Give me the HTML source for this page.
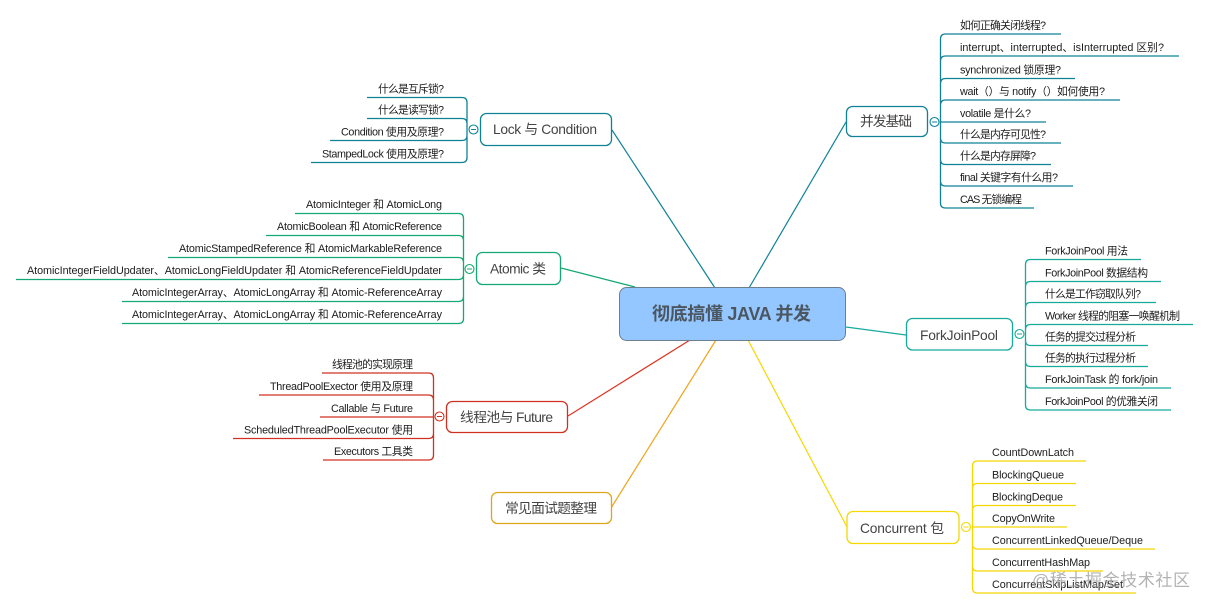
<!DOCTYPE html>
<html lang="zh">
<head>
<meta charset="utf-8">
<title>彻底搞懂 JAVA 并发</title>
<style>
html,body{margin:0;padding:0;background:#fff}
svg{display:block}
text{font-family:"Liberation Sans","Noto Sans CJK SC",sans-serif}
.i{font-size:10.8px;fill:#1c1c1c}
.n{font-size:13.8px;fill:#444}
.l{fill:none;stroke-width:1.3}
.b{fill:#fff;stroke-width:1.3}
.c{fill:#fff;stroke-width:1.1}
</style>
</head>
<body>
<svg width="1209" height="609" viewBox="0 0 1209 609" xmlns="http://www.w3.org/2000/svg">
<rect width="1209" height="609" fill="#fff"/>

<!-- main connectors -->
<g fill="none" stroke-width="1.2">
<path d="M612 130L715 288" stroke="#0f8296"/>
<path d="M749 288L846 122" stroke="#0f8296"/>
<path d="M561 268L635 287" stroke="#14a873"/>
<path d="M846 327L906 335" stroke="#14aa9c"/>
<path d="M568 416L690 340" stroke="#dd3322"/>
<path d="M611 508L716 340" stroke="#eea51c"/>
<path d="M847 527L748 340" stroke="#f4d800"/>
</g>

<!-- center -->
<rect x="619.5" y="287.5" width="226" height="53" rx="7" fill="#94c6ff" stroke="#6d7f8f" stroke-width="1"/>
<text x="652" y="320" font-size="18" font-weight="700" fill="#4b5661" textLength="159">彻底搞懂 JAVA 并发</text>

<!-- 并发基础 -->
<g stroke="#0f8296">
<path class="l" d="M1061 34H945.5Q940.5 34 940.5 39V122M1179 56H945.5Q940.5 56 940.5 61V122M1075 78.5H945.5Q940.5 78.5 940.5 83.5V122M1120 100H945.5Q940.5 100 940.5 105V122M1046 122H940.5M1061 143H945.5Q940.5 143 940.5 138V122M1051 164.5H945.5Q940.5 164.5 940.5 159.5V122M1073 186H945.5Q940.5 186 940.5 181V122M1034 208H945.5Q940.5 208 940.5 203V122"/>
<rect class="b" x="846.5" y="106.5" width="81" height="30" rx="6"/>
<circle class="c" cx="934.5" cy="122" r="4.5"/>
<path d="M932 122H937" fill="none"/>
</g>
<text class="n" x="860" y="126" textLength="52">并发基础</text>
<text class="i" x="960" y="29" textLength="86">如何正确关闭线程?</text>
<text class="i" x="960" y="51" textLength="204">interrupt、interrupted、isInterrupted 区别?</text>
<text class="i" x="960" y="73.5" textLength="101">synchronized 锁原理?</text>
<text class="i" x="960" y="95" textLength="145">wait（）与 notify（）如何使用?</text>
<text class="i" x="960" y="117" textLength="71">volatile 是什么?</text>
<text class="i" x="960" y="138" textLength="86">什么是内存可见性?</text>
<text class="i" x="960" y="159.5" textLength="76">什么是内存屏障?</text>
<text class="i" x="960" y="181" textLength="98">final 关键字有什么用?</text>
<text class="i" x="960" y="203" textLength="62">CAS 无锁编程</text>

<!-- Lock 与 Condition -->
<g stroke="#0f8296">
<path class="l" d="M367 97.5H462Q467 97.5 467 102.5V129.5M367 118.5H462Q467 118.5 467 123.5V129.5M330 140.5H462Q467 140.5 467 135.5V129.5M311 162.5H462Q467 162.5 467 157.5V129.5"/>
<rect class="b" x="480.5" y="113.5" width="131" height="32" rx="6"/>
<circle class="c" cx="473.5" cy="129.5" r="4.5"/>
<path d="M471 129.5H476" fill="none"/>
</g>
<text class="n" x="493" y="134" textLength="104">Lock 与 Condition</text>
<text class="i" x="378" y="92.5" textLength="66">什么是互斥锁?</text>
<text class="i" x="378" y="113.5" textLength="66">什么是读写锁?</text>
<text class="i" x="341" y="135.5" textLength="103">Condition 使用及原理?</text>
<text class="i" x="322" y="157.5" textLength="122">StampedLock 使用及原理?</text>

<!-- Atomic -->
<g stroke="#14a873">
<path class="l" d="M295 213.5H458.5Q463.5 213.5 463.5 218.5V269M266 235.5H458.5Q463.5 235.5 463.5 240.5V269M168 257.5H458.5Q463.5 257.5 463.5 262.5V269M16 279.5H458.5Q463.5 279.5 463.5 274.5V269M122 301.5H458.5Q463.5 301.5 463.5 296.5V269M122 323.5H458.5Q463.5 323.5 463.5 318.5V269"/>
<rect class="b" x="476.5" y="252.5" width="84" height="32" rx="6"/>
<circle class="c" cx="469.5" cy="269" r="4.5"/>
<path d="M467 269H472" fill="none"/>
</g>
<text class="n" x="490" y="273.5" textLength="56">Atomic 类</text>
<text class="i" x="306" y="208" textLength="136">AtomicInteger 和 AtomicLong</text>
<text class="i" x="277" y="230" textLength="165">AtomicBoolean 和 AtomicReference</text>
<text class="i" x="179" y="252" textLength="263">AtomicStampedReference 和 AtomicMarkableReference</text>
<text class="i" x="27" y="274" textLength="415">AtomicIntegerFieldUpdater、AtomicLongFieldUpdater 和 AtomicReferenceFieldUpdater</text>
<text class="i" x="132" y="296" textLength="310">AtomicIntegerArray、AtomicLongArray 和 Atomic-ReferenceArray</text>
<text class="i" x="132" y="318" textLength="310">AtomicIntegerArray、AtomicLongArray 和 Atomic-ReferenceArray</text>

<!-- 线程池与 Future -->
<g stroke="#d03020">
<path class="l" d="M322 373H428.5Q433.5 373 433.5 378V416.5M259 395H428.5Q433.5 395 433.5 400V416.5M320 417H433.5M233 438.5H428.5Q433.5 438.5 433.5 433.5V416.5M323 460H428.5Q433.5 460 433.5 455V416.5"/>
<rect class="b" x="446.5" y="401.5" width="121" height="31" rx="6"/>
<circle class="c" cx="439.5" cy="416.5" r="4.5"/>
<path d="M437 416.5H442" fill="none"/>
</g>
<text class="n" x="460" y="422" textLength="93">线程池与 Future</text>
<text class="i" x="332" y="368" textLength="81">线程池的实现原理</text>
<text class="i" x="270" y="390" textLength="143">ThreadPoolExector 使用及原理</text>
<text class="i" x="331" y="412" textLength="82">Callable 与 Future</text>
<text class="i" x="244" y="433.5" textLength="169">ScheduledThreadPoolExecutor 使用</text>
<text class="i" x="334" y="455" textLength="79">Executors 工具类</text>

<!-- 常见面试题整理 -->
<rect class="b" x="491.5" y="492.5" width="120" height="31" rx="6" stroke="#e0a418"/>
<text class="n" x="505" y="513" textLength="92">常见面试题整理</text>

<!-- ForkJoinPool -->
<g stroke="#14aa9c">
<path class="l" d="M1141 259.5H1030.5Q1025.5 259.5 1025.5 264.5V334M1161 281.5H1030.5Q1025.5 281.5 1025.5 286.5V334M1156 302.5H1030.5Q1025.5 302.5 1025.5 307.5V334M1193 324.5H1030.5Q1025.5 324.5 1025.5 329.5V334M1148 345.5H1030.5Q1025.5 345.5 1025.5 340.5V334M1148 366.5H1030.5Q1025.5 366.5 1025.5 361.5V334M1171 388H1030.5Q1025.5 388 1025.5 383V334M1171 410H1030.5Q1025.5 410 1025.5 405V334"/>
<rect class="b" x="906.5" y="318.5" width="106" height="31.5" rx="6"/>
<circle class="c" cx="1019.5" cy="334" r="4.5"/>
<path d="M1017 334H1022" fill="none"/>
</g>
<text class="n" x="920" y="340" textLength="78">ForkJoinPool</text>
<text class="i" x="1045" y="254.5" textLength="83">ForkJoinPool 用法</text>
<text class="i" x="1045" y="276.5" textLength="103">ForkJoinPool 数据结构</text>
<text class="i" x="1045" y="297.5" textLength="96">什么是工作窃取队列?</text>
<text class="i" x="1045" y="319.5" textLength="135">Worker 线程的阻塞一唤醒机制</text>
<text class="i" x="1045" y="340.5" textLength="91">任务的提交过程分析</text>
<text class="i" x="1045" y="361.5" textLength="91">任务的执行过程分析</text>
<text class="i" x="1045" y="383" textLength="113">ForkJoinTask 的 fork/join</text>
<text class="i" x="1045" y="405" textLength="113">ForkJoinPool 的优雅关闭</text>

<!-- Concurrent 包 -->
<g stroke="#f4d800">
<path class="l" d="M1086 461H977.5Q972.5 461 972.5 466V527M1076 483.5H977.5Q972.5 483.5 972.5 488.5V527M1076 505.5H977.5Q972.5 505.5 972.5 510.5V527M1067 527H972.5M1155 549H977.5Q972.5 549 972.5 544V527M1103 571H977.5Q972.5 571 972.5 566V527M1136 593H977.5Q972.5 593 972.5 588V527"/>
<rect class="b" x="847" y="511.5" width="112" height="32" rx="6"/>
<circle class="c" cx="966" cy="527" r="4.5"/>
<path d="M963.5 527H968.5" fill="none"/>
</g>
<text class="n" x="860" y="533" textLength="84">Concurrent 包</text>
<text class="i" x="992" y="456" textLength="82">CountDownLatch</text>
<text class="i" x="992" y="478.5" textLength="72">BlockingQueue</text>
<text class="i" x="992" y="500.5" textLength="71">BlockingDeque</text>
<text class="i" x="992" y="522" textLength="63">CopyOnWrite</text>
<text class="i" x="992" y="544" textLength="151">ConcurrentLinkedQueue/Deque</text>
<text class="i" x="992" y="566" textLength="98">ConcurrentHashMap</text>
<text class="i" x="992" y="588" textLength="131">ConcurrentSkipListMap/Set</text>

<!-- watermark -->
<text x="1032" y="586" font-size="17" fill="#9a9a9a" fill-opacity="0.75" textLength="158">@稀土掘金技术社区</text>
</svg>
</body>
</html>
